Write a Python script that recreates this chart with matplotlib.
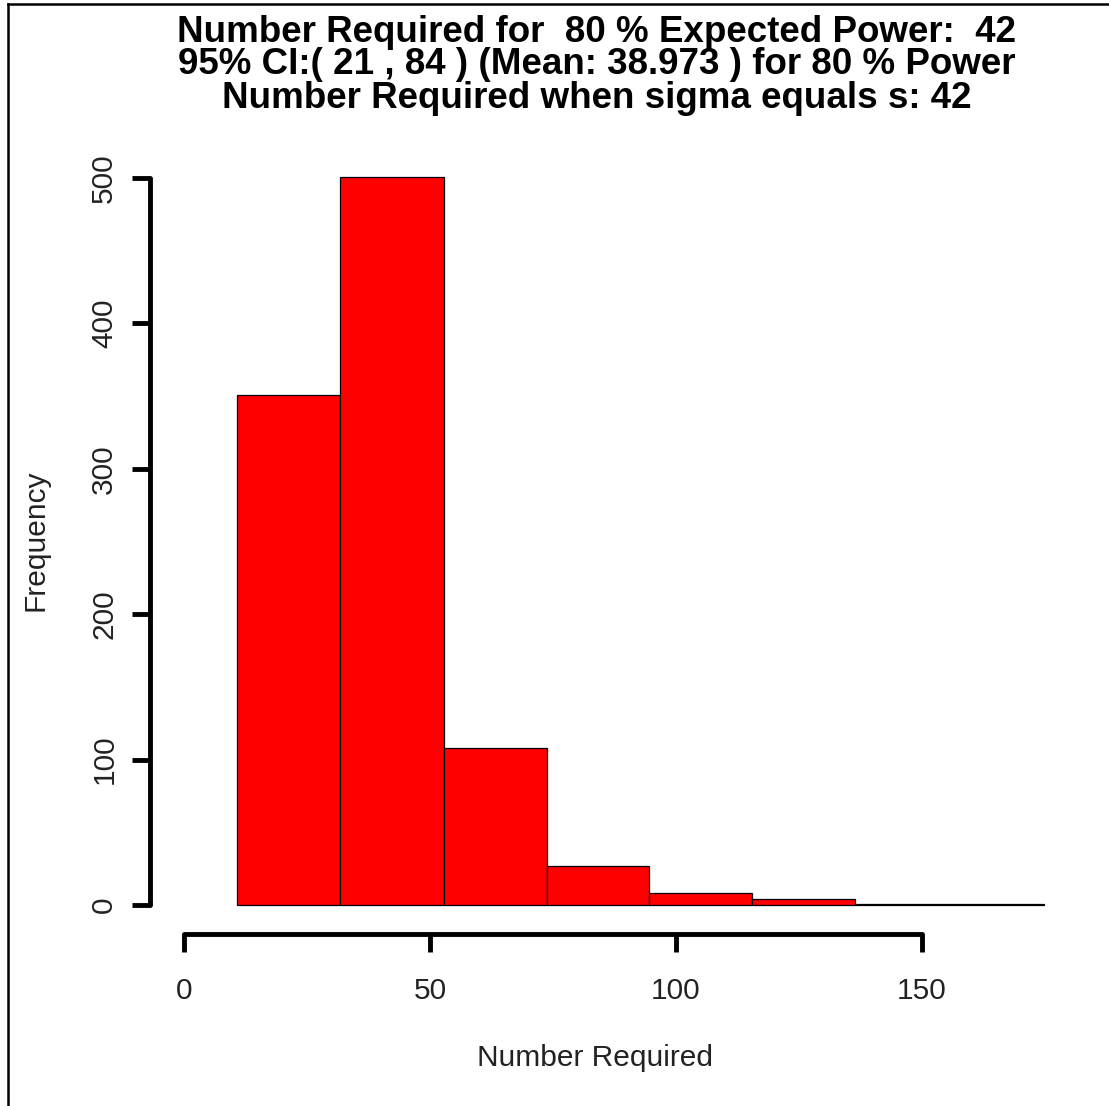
import matplotlib
matplotlib.use("Agg")
import matplotlib.pyplot as plt
import numpy as np
from matplotlib.lines import Line2D

# ---- data ----
bin_edges = [10.7, 31.8, 52.8, 73.7, 94.5, 115.4, 136.4, 174.7]
counts = [351, 501, 108, 27, 8, 4, 1]
x_ticks = [0, 50, 100, 150]
y_ticks = [0, 100, 200, 300, 400, 500]
title_lines = [
    "Number Required for  80 % Expected Power:  42",
    "95% CI:( 21 , 84 ) (Mean: 38.973 ) for 80 % Power",
    "Number Required when sigma equals s: 42",
]
x_label = "Number Required"
y_label = "Frequency"

W, H = 1109, 1106
DPI = 100
plt.rcParams['font.family'] = ['Liberation Sans', 'DejaVu Sans']

fig = plt.figure(figsize=(W / DPI, H / DPI), dpi=DPI)
fig.patch.set_facecolor('white')

# axes placement in pixels
xlim = (-7, 182)
ylim = (-20, 522)
px_per_x = 738 / 150.0
px_per_y = 727 / 500.0
left_px = 184 + xlim[0] * px_per_x
right_px = 184 + xlim[1] * px_per_x
bottom_px = 905 - ylim[0] * px_per_y
top_px = 905 - ylim[1] * px_per_y

ax = fig.add_axes([left_px / W, 1 - bottom_px / H,
                   (right_px - left_px) / W, (bottom_px - top_px) / H])
ax.set_xlim(*xlim)
ax.set_ylim(*ylim)
ax.patch.set_alpha(0)

lefts = np.array(bin_edges[:-1])
widths = np.diff(bin_edges)
ax.bar(lefts, counts, width=widths, align='edge', color='#ff0000',
       edgecolor='black', linewidth=0.9)

for s in ['top', 'right']:
    ax.spines[s].set_visible(False)
ax.spines['left'].set_bounds(0, 500)
ax.spines['bottom'].set_bounds(0, 150)
for s in ['left', 'bottom']:
    ax.spines[s].set_linewidth(3.5)
    ax.spines[s].set_capstyle('round')

ax.set_xticks(x_ticks)
ax.set_xticklabels([str(v) for v in x_ticks])
ax.set_yticks(y_ticks)
ax.set_yticklabels([str(v) for v in y_ticks], rotation=90, va='center')
ax.tick_params(axis='both', length=13, width=3.5, labelsize=21.5, color='black')
ax.tick_params(axis='x', pad=18)
ax.tick_params(axis='y', pad=9.5)
for lab in ax.get_xticklabels() + ax.get_yticklabels():
    lab.set_color('#222222')

# titles
for i, line in enumerate(title_lines):
    fig.text(597 / W, 1 - (32 + 33 * i) / H, line, ha='center', va='center',
             fontsize=26.5, fontweight='bold')

fig.text(595 / W, 1 - 1058 / H, x_label, ha='center', va='center',
         fontsize=21.5, color='#222222')
fig.text(35 / W, 1 - 540 / H, y_label, ha='center', va='center',
         fontsize=21.5, rotation=90, color='#222222')

# partial frame (top and left)
fig.add_artist(Line2D([8 / W, 1], [1 - 4 / H, 1 - 4 / H], color='black',
                      linewidth=1.8, transform=fig.transFigure))
fig.add_artist(Line2D([8 / W, 8 / W], [0, 1 - 4 / H], color='black',
                      linewidth=1.8, transform=fig.transFigure))

fig.savefig('out.png', dpi=DPI)
